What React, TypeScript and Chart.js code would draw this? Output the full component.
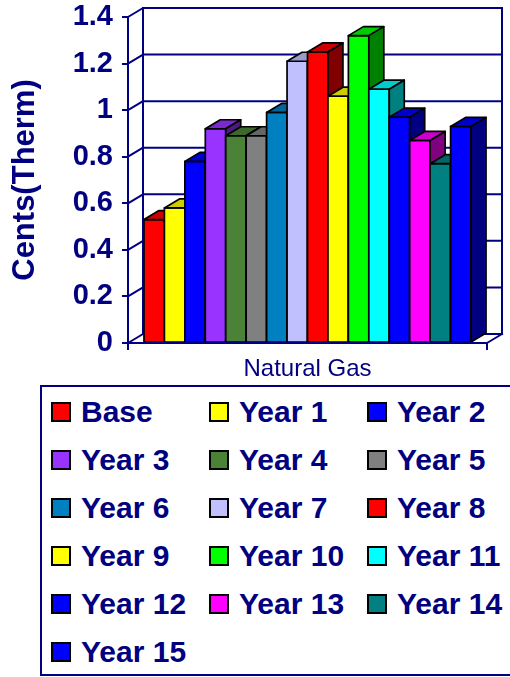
import React, { useEffect, useRef } from "react";
import { Chart, registerables } from "chart.js";

Chart.register(...registerables);

const categories = ["Natural Gas"];
const seriesNames = [
  "Base", "Year 1", "Year 2", "Year 3", "Year 4", "Year 5", "Year 6", "Year 7",
  "Year 8", "Year 9", "Year 10", "Year 11", "Year 12", "Year 13", "Year 14", "Year 15",
];
const seriesValues = [0.53, 0.58, 0.78, 0.92, 0.89, 0.89, 0.99, 1.21, 1.25, 1.06, 1.32, 1.09, 0.97, 0.87, 0.77, 0.93];
const seriesColors = [
  "#FF0000", "#FFFF00", "#0000FF", "#9933FF", "#4B8237", "#808080", "#0080C0", "#C0C0FF",
  "#FF0000", "#FFFF00", "#00FF00", "#00FFFF", "#0000FF", "#FF00FF", "#008080", "#0000FF",
];
const yTickValues = [0, 0.2, 0.4, 0.6, 0.8, 1, 1.2, 1.4];
const yTickLabels = ["0", "0.2", "0.4", "0.6", "0.8", "1", "1.2", "1.4"];
const yTitle = "Cents(Therm)";

const NAVY = "#000080";
const DX = 15;
const DY = -9;

function shade(hex: string, f: number): string {
  const n = parseInt(hex.slice(1), 16);
  const r = Math.round(((n >> 16) & 255) * f);
  const g = Math.round(((n >> 8) & 255) * f);
  const b = Math.round((n & 255) * f);
  return `rgb(${r},${g},${b})`;
}

function line(ctx: CanvasRenderingContext2D, x1: number, y1: number, x2: number, y2: number) {
  ctx.beginPath();
  ctx.moveTo(x1, y1);
  ctx.lineTo(x2, y2);
  ctx.stroke();
}

function poly(ctx: CanvasRenderingContext2D, pts: number[][], fill: string) {
  ctx.beginPath();
  ctx.moveTo(pts[0][0], pts[0][1]);
  for (let i = 1; i < pts.length; i++) ctx.lineTo(pts[i][0], pts[i][1]);
  ctx.closePath();
  ctx.fillStyle = fill;
  ctx.fill();
  ctx.stroke();
}

const threeD = {
  id: "threeD",
  beforeDatasetsDraw(chart: any) {
    const { ctx, chartArea, scales } = chart;
    const { left, right, top, bottom } = chartArea;
    const y = scales.y;
    ctx.save();
    ctx.strokeStyle = NAVY;
    ctx.lineWidth = 2;
    ctx.lineCap = "square";
    yTickValues.forEach((v) => {
      const py = y.getPixelForValue(v);
      line(ctx, left, py, left + DX, py + DY);
      line(ctx, left + DX, py + DY, right + DX, py + DY);
    });
    line(ctx, left + DX, top + DY, left + DX, bottom + DY);
    line(ctx, right + DX, top + DY, right + DX, bottom + DY);
    line(ctx, left, bottom, right, bottom);
    line(ctx, right, bottom, right + DX, bottom + DY);
    line(ctx, left, bottom, left, bottom + 6);
    line(ctx, right, bottom, right, bottom + 6);
    ctx.restore();
  },
  afterDatasetsDraw(chart: any) {
    const { ctx } = chart;
    ctx.save();
    ctx.strokeStyle = "#000000";
    ctx.lineWidth = 1.7;
    ctx.lineJoin = "round";
    for (let i = 0; i < chart.data.datasets.length; i++) {
      const meta = chart.getDatasetMeta(i);
      const color = seriesColors[i];
      meta.data.forEach((el: any) => {
        const { x, y, base, width } = el.getProps(["x", "y", "base", "width"], true);
        const L = x - width / 2;
        const R = x + width / 2;
        poly(ctx, [[L, y], [R, y], [R, base], [L, base]], color);
        poly(ctx, [[L, y], [L + DX, y + DY], [R + DX, y + DY], [R, y]], shade(color, 0.8));
        poly(ctx, [[R, y], [R + DX, y + DY], [R + DX, base + DY], [R, base]], shade(color, 0.5));
      });
    }
    const { left, right, bottom } = chart.chartArea;
    ctx.strokeStyle = NAVY;
    ctx.lineWidth = 2;
    line(ctx, left, bottom, right, bottom);
    ctx.restore();
  },
};

function ChartCanvas() {
  const ref = useRef<HTMLCanvasElement | null>(null);
  useEffect(() => {
    if (!ref.current) return;
    const chart = new Chart(ref.current, {
      type: "bar",
      data: {
        labels: categories,
        datasets: seriesNames.map((name, i) => ({
          label: name,
          data: [seriesValues[i]],
          backgroundColor: seriesColors[i],
          borderColor: "#000000",
          borderWidth: 0,
          categoryPercentage: 0.911,
          barPercentage: 1,
        })),
      },
      options: {
        responsive: false,
        animation: false,
        events: [],
        layout: { padding: { top: 17, right: 23, bottom: 0, left: 0 } },
        plugins: {
          legend: { display: false },
          tooltip: { enabled: false },
        },
        scales: {
          x: {
            grid: { display: false, drawTicks: false },
            border: { display: false },
            ticks: {
              color: NAVY,
              padding: 12,
              font: { family: "'Liberation Sans', Arial, sans-serif", size: 24 },
            },
            afterFit: (s: any) => {
              s.height = 37;
              s.paddingLeft = 0;
              s.paddingRight = 0;
            },
          },
          y: {
            min: 0,
            max: 1.4,
            afterBuildTicks: (s: any) => {
              s.ticks = yTickValues.map((v) => ({ value: v }));
            },
            ticks: {
              color: NAVY,
              padding: 9,
              font: { family: "'Liberation Sans', Arial, sans-serif", size: 29, weight: "bold" },
              callback: (_v: any, i: number) => yTickLabels[i],
            },
            grid: { drawOnChartArea: false, color: NAVY, lineWidth: 2, tickLength: 6 },
            border: { color: NAVY, width: 2 },
            title: {
              display: true,
              text: yTitle,
              color: NAVY,
              padding: { top: 7, bottom: 0 },
              font: { family: "'Liberation Sans', Arial, sans-serif", size: 31, weight: "bold" },
            },
            afterFit: (s: any) => {
              s.width = 128;
              s.paddingTop = 0;
              s.paddingBottom = 0;
            },
          },
        },
      },
      plugins: [threeD],
    });
    return () => chart.destroy();
  }, []);
  return <canvas ref={ref} width={510} height={380} style={{ position: "absolute", left: 0, top: 0, width: 510, height: 380 }} />;
}

function Legend() {
  const colX = [51, 209, 367];
  const rowY = [412, 460, 508, 556, 604, 652];
  return (
    <div
      style={{
        position: "absolute",
        left: 40,
        top: 385,
        width: 470,
        height: 291,
        boxSizing: "border-box",
        borderTop: `2px solid ${NAVY}`,
        borderLeft: `2px solid ${NAVY}`,
        borderBottom: `2px solid ${NAVY}`,
      }}
    >
      {seriesNames.map((name, i) => {
        const cx = colX[i % 3] - 40;
        const cy = rowY[Math.floor(i / 3)] - 385;
        return (
          <div key={name}>
            <div
              style={{
                position: "absolute",
                left: cx - 2,
                top: cy - 10 - 2,
                width: 20,
                height: 20,
                boxSizing: "border-box",
                border: "2px solid #000",
                background: seriesColors[i],
              }}
            />
            <div
              style={{
                position: "absolute",
                left: cx + 28,
                top: cy - 2 - 20,
                height: 40,
                lineHeight: "40px",
                whiteSpace: "nowrap",
                fontFamily: "'Liberation Sans', Arial, sans-serif",
                fontWeight: "bold",
                fontSize: 30,
                color: NAVY,
              }}
            >
              {name}
            </div>
          </div>
        );
      })}
    </div>
  );
}

export default function App() {
  return (
    <div style={{ position: "fixed", left: 0, top: 0, width: 510, height: 677, overflow: "hidden", background: "#fff" }}>
      <ChartCanvas />
      <Legend />
    </div>
  );
}
